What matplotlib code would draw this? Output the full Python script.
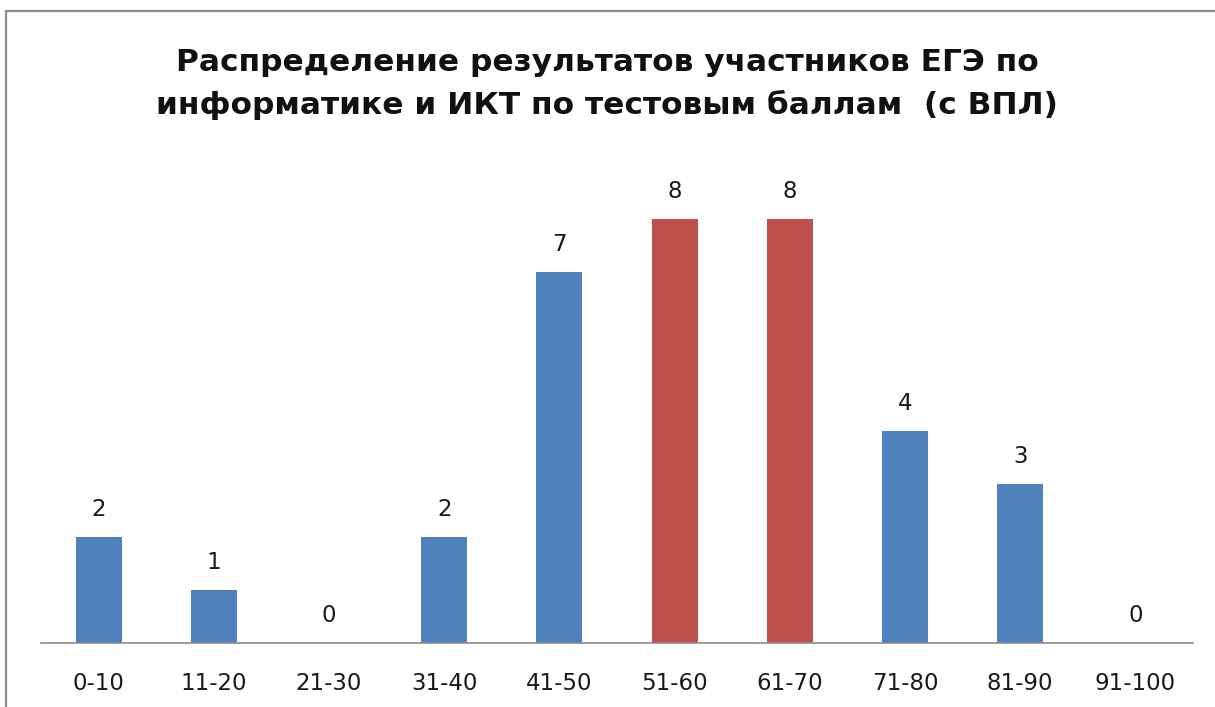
import matplotlib
matplotlib.use("Agg")
import matplotlib.pyplot as plt
from matplotlib.patches import Rectangle

categories = ["0-10", "11-20", "21-30", "31-40", "41-50", "51-60", "61-70", "71-80", "81-90", "91-100"]
counts = [2, 1, 0, 2, 7, 8, 8, 4, 3, 0]
highlight = ["51-60", "61-70"]
title = "Распределение результатов участников ЕГЭ по\nинформатике и ИКТ по тестовым баллам  (с ВПЛ)"

BLUE = "#4F81BD"
RED = "#C0504D"

plt.rcParams["font.family"] = ["DejaVu Sans"]

W, H = 1215, 707
fig = plt.figure(figsize=(W / 100, H / 100), dpi=100)

# outer chart frame (cropped on right/bottom as in the screenshot)
fig.add_artist(Rectangle((6 / W, -0.1), 1.2, 1 - 11 / H + 0.1, transform=fig.transFigure,
                         fill=False, edgecolor="#8c8c8c", linewidth=1.6))

ax = fig.add_axes([41 / W, 64 / H, 1152 / W, 477 / H])
colors = [RED if c in highlight else BLUE for c in categories]
x = range(len(categories))
bars = ax.bar(x, counts, width=0.4, color=colors)
for bar, v in zip(bars, counts):
    ax.text(bar.get_x() + bar.get_width() / 2, v + 0.3, str(v),
            ha="center", va="bottom", fontsize=16.5, color="#1a1a1a")

ax.set_xlim(-0.5, len(categories) - 0.5)
ax.set_ylim(0, 9)
ax.set_xticks(list(x))
ax.set_xticklabels(categories, fontsize=16.5, color="#1a1a1a")
ax.tick_params(axis="x", length=0, pad=21)
ax.set_yticks([])
for s in ["top", "right", "left"]:
    ax.spines[s].set_visible(False)
ax.spines["bottom"].set_color("#8c8c8c")
ax.spines["bottom"].set_linewidth(1.2)

fig.text(607 / W, 1 - 84 / H, title, ha="center", va="center", fontsize=22.5,
         fontweight="bold", linespacing=1.5, color="#111111")

fig.savefig("out.png", dpi=100)
